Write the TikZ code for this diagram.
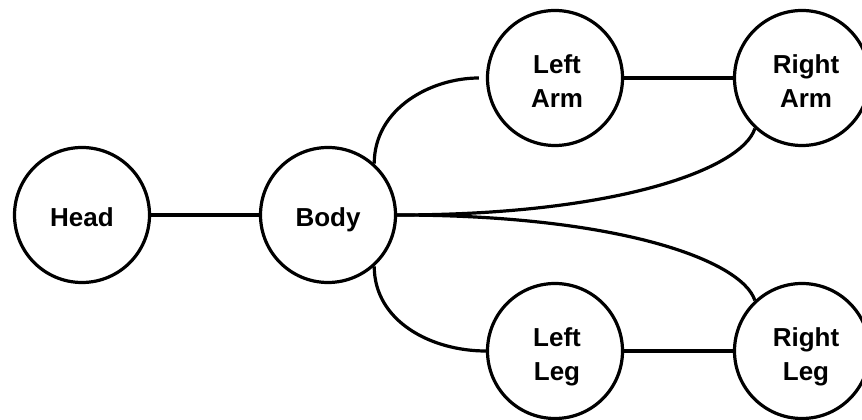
\documentclass[tikz,border=0pt]{standalone}
\usepackage{fontspec}
\setmainfont{Liberation Sans}
\begin{document}
\begin{tikzpicture}[x=1pt,y=1pt,
  part/.style={circle,draw=black,line width=3.2pt,fill=white,minimum size=135pt,inner sep=0pt},
  lbl/.style={align=center,font=\fontsize{26}{34}\selectfont\bfseries,inner sep=0pt,text depth=0pt},
  link/.style={draw=black,line width=3.2pt}]
  \useasboundingbox (0,0) rectangle (862,420);
  \clip (0,0) rectangle (862,420);
  \fill[white] (0,0) rectangle (862,420);

  % body parts
  \node[part] (head) at (82,205) {};
  \node[part] (body) at (328,205) {};
  \node[part] (larm) at (555,342) {};
  \node[part] (rarm) at (802,342) {};
  \node[part] (lleg) at (555,69) {};
  \node[part] (rleg) at (802,69) {};

  % labels
  \node[lbl] (thead) at ([yshift=-2pt]head) {Head};
  \node[lbl] (tbody) at ([yshift=-2pt]body) {Body};
  \node[lbl] (tlarm) at ([xshift=2pt,yshift=-3pt]larm) {Left\\Arm};
  \node[lbl] (trarm) at ([xshift=4pt,yshift=-3pt]rarm) {Right\\Arm};
  \node[lbl] (tlleg) at ([xshift=2pt,yshift=-3pt]lleg) {Left\\Leg};
  \node[lbl] (trleg) at ([xshift=4pt,yshift=-3pt]rleg) {Right\\Leg};

  % connections
  \path[link] (head) -- (body);
  \path[link] (larm) -- (rarm);
  \path[link] (lleg) -- (rleg);
  \path[link,shorten >=7pt] (body.48) to[out=90,in=180] (larm.west);
  \path[link] (body.-48) to[out=-90,in=180] (lleg.west);
  \path[link] (body.east) .. controls +(222,0) and +(-13,-40) .. (rarm.227);
  \path[link] (body.east) .. controls +(222,0) and +(-13,40) .. (rleg.133);
\end{tikzpicture}
\end{document}
